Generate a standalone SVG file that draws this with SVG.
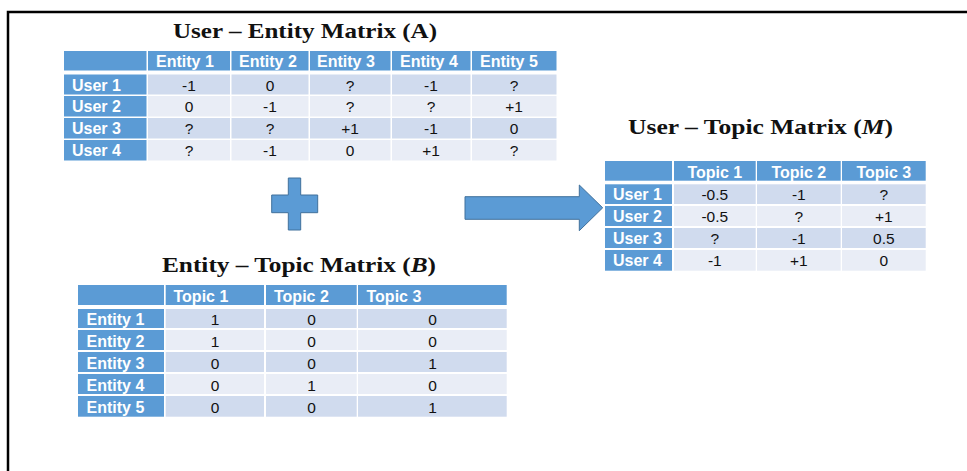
<svg xmlns="http://www.w3.org/2000/svg" width="967" height="471" viewBox="0 0 967 471">
<style>
.hd{fill:#5B9BD5}
.d1{fill:#D0DBEE}
.d2{fill:#E9EDF6}
.ht{font-family:"Liberation Sans",Arial,sans-serif;font-size:16px;font-weight:bold;fill:#fff}
.dt{font-family:"Liberation Sans",Arial,sans-serif;font-size:15.5px;fill:#111;text-anchor:middle}
.ttl{font-family:"Liberation Serif","Times New Roman",serif;font-size:21px;font-weight:bold;fill:#111}
.shape{fill:#5B9BD5;stroke:#41719C;stroke-width:1}
</style>
<rect width="967" height="471" fill="#fff"/>
<path d="M8,471 V12 H967" fill="none" stroke="#000" stroke-width="2.5"/>

<g id="matrixA">
<text class="ttl" x="173" y="38" textLength="264" lengthAdjust="spacingAndGlyphs">User – Entity Matrix (A)</text>
<rect class="hd" x="64" y="51" width="82.5" height="19.5"/>
<rect class="hd" x="148" y="51" width="82" height="19.5"/>
<rect class="hd" x="231.5" y="51" width="77" height="19.5"/>
<rect class="hd" x="310" y="51" width="80.5" height="19.5"/>
<rect class="hd" x="392" y="51" width="78.5" height="19.5"/>
<rect class="hd" x="472" y="51" width="84.5" height="19.5"/>
<text class="ht" x="156" y="67">Entity 1</text>
<text class="ht" x="239" y="67">Entity 2</text>
<text class="ht" x="317" y="67">Entity 3</text>
<text class="ht" x="400" y="67">Entity 4</text>
<text class="ht" x="480" y="67">Entity 5</text>
<rect class="hd" x="64" y="74.5" width="82.5" height="20"/>
<rect class="hd" x="64" y="96" width="82.5" height="20.5"/>
<rect class="hd" x="64" y="118" width="82.5" height="20.5"/>
<rect class="hd" x="64" y="140" width="82.5" height="20.5"/>
<text class="ht" x="72" y="90.5">User 1</text>
<text class="ht" x="72" y="112">User 2</text>
<text class="ht" x="72" y="134">User 3</text>
<text class="ht" x="72" y="156">User 4</text>
<g class="d1"><rect x="148" y="74.5" width="82" height="20"/><rect x="231.5" y="74.5" width="77" height="20"/><rect x="310" y="74.5" width="80.5" height="20"/><rect x="392" y="74.5" width="78.5" height="20"/><rect x="472" y="74.5" width="84.5" height="20"/></g>
<g class="d2"><rect x="148" y="96" width="82" height="20.5"/><rect x="231.5" y="96" width="77" height="20.5"/><rect x="310" y="96" width="80.5" height="20.5"/><rect x="392" y="96" width="78.5" height="20.5"/><rect x="472" y="96" width="84.5" height="20.5"/></g>
<g class="d1"><rect x="148" y="118" width="82" height="20.5"/><rect x="231.5" y="118" width="77" height="20.5"/><rect x="310" y="118" width="80.5" height="20.5"/><rect x="392" y="118" width="78.5" height="20.5"/><rect x="472" y="118" width="84.5" height="20.5"/></g>
<g class="d2"><rect x="148" y="140" width="82" height="20.5"/><rect x="231.5" y="140" width="77" height="20.5"/><rect x="310" y="140" width="80.5" height="20.5"/><rect x="392" y="140" width="78.5" height="20.5"/><rect x="472" y="140" width="84.5" height="20.5"/></g>
<text class="dt" x="189" y="90.5">-1</text><text class="dt" x="270" y="90.5">0</text><text class="dt" x="350" y="90.5">?</text><text class="dt" x="431" y="90.5">-1</text><text class="dt" x="514" y="90.5">?</text>
<text class="dt" x="189" y="112">0</text><text class="dt" x="270" y="112">-1</text><text class="dt" x="350" y="112">?</text><text class="dt" x="431" y="112">?</text><text class="dt" x="514" y="112">+1</text>
<text class="dt" x="189" y="134">?</text><text class="dt" x="270" y="134">?</text><text class="dt" x="350" y="134">+1</text><text class="dt" x="431" y="134">-1</text><text class="dt" x="514" y="134">0</text>
<text class="dt" x="189" y="156">?</text><text class="dt" x="270" y="156">-1</text><text class="dt" x="350" y="156">0</text><text class="dt" x="431" y="156">+1</text><text class="dt" x="514" y="156">?</text>
</g>

<g id="matrixB">
<text class="ttl" x="162" y="272" textLength="274" lengthAdjust="spacingAndGlyphs">Entity – Topic Matrix (<tspan font-style="italic">B</tspan>)</text>
<rect class="hd" x="78" y="285" width="86" height="20"/>
<rect class="hd" x="165.7" y="285" width="98.3" height="20"/>
<rect class="hd" x="266" y="285" width="90.7" height="20"/>
<rect class="hd" x="358" y="285" width="148.7" height="20"/>
<text class="ht" x="173.5" y="301.5">Topic 1</text>
<text class="ht" x="274" y="301.5">Topic 2</text>
<text class="ht" x="366.5" y="301.5">Topic 3</text>
<rect class="hd" x="78" y="309" width="86" height="19"/>
<rect class="hd" x="78" y="330" width="86" height="20"/>
<rect class="hd" x="78" y="352" width="86" height="20"/>
<rect class="hd" x="78" y="374" width="86" height="20"/>
<rect class="hd" x="78" y="396" width="86" height="20.7"/>
<text class="ht" x="86.5" y="325">Entity 1</text>
<text class="ht" x="86.5" y="346.5">Entity 2</text>
<text class="ht" x="86.5" y="368.5">Entity 3</text>
<text class="ht" x="86.5" y="390.5">Entity 4</text>
<text class="ht" x="86.5" y="413">Entity 5</text>
<g class="d1"><rect x="165.7" y="309" width="98.3" height="19"/><rect x="266" y="309" width="90.7" height="19"/><rect x="358" y="309" width="148.7" height="19"/></g>
<g class="d2"><rect x="165.7" y="330" width="98.3" height="20"/><rect x="266" y="330" width="90.7" height="20"/><rect x="358" y="330" width="148.7" height="20"/></g>
<g class="d1"><rect x="165.7" y="352" width="98.3" height="20"/><rect x="266" y="352" width="90.7" height="20"/><rect x="358" y="352" width="148.7" height="20"/></g>
<g class="d2"><rect x="165.7" y="374" width="98.3" height="20"/><rect x="266" y="374" width="90.7" height="20"/><rect x="358" y="374" width="148.7" height="20"/></g>
<g class="d1"><rect x="165.7" y="396" width="98.3" height="20.7"/><rect x="266" y="396" width="90.7" height="20.7"/><rect x="358" y="396" width="148.7" height="20.7"/></g>
<text class="dt" x="215" y="325">1</text><text class="dt" x="311.5" y="325">0</text><text class="dt" x="432.5" y="325">0</text>
<text class="dt" x="215" y="346.5">1</text><text class="dt" x="311.5" y="346.5">0</text><text class="dt" x="432.5" y="346.5">0</text>
<text class="dt" x="215" y="368.5">0</text><text class="dt" x="311.5" y="368.5">0</text><text class="dt" x="432.5" y="368.5">1</text>
<text class="dt" x="215" y="390.5">0</text><text class="dt" x="311.5" y="390.5">1</text><text class="dt" x="432.5" y="390.5">0</text>
<text class="dt" x="215" y="413">0</text><text class="dt" x="311.5" y="413">0</text><text class="dt" x="432.5" y="413">1</text>
</g>

<g id="matrixM">
<text class="ttl" x="628" y="133.5" textLength="265" lengthAdjust="spacingAndGlyphs">User – Topic Matrix (<tspan font-style="italic">M</tspan>)</text>
<rect class="hd" x="605" y="161" width="67" height="19.7"/>
<rect class="hd" x="674" y="161" width="81.7" height="19.7"/>
<rect class="hd" x="757" y="161" width="83.7" height="19.7"/>
<rect class="hd" x="842" y="161" width="83.7" height="19.7"/>
<text class="ht" x="714.8" y="177.5" text-anchor="middle">Topic 1</text>
<text class="ht" x="798.8" y="177.5" text-anchor="middle">Topic 2</text>
<text class="ht" x="883.8" y="177.5" text-anchor="middle">Topic 3</text>
<rect class="hd" x="605" y="184.3" width="67" height="19.7"/>
<rect class="hd" x="605" y="206" width="67" height="20"/>
<rect class="hd" x="605" y="228" width="67" height="20"/>
<rect class="hd" x="605" y="250" width="67" height="20.7"/>
<text class="ht" x="613" y="200">User 1</text>
<text class="ht" x="613" y="222">User 2</text>
<text class="ht" x="613" y="244">User 3</text>
<text class="ht" x="613" y="266">User 4</text>
<g class="d1"><rect x="674" y="184.3" width="81.7" height="19.7"/><rect x="757" y="184.3" width="83.7" height="19.7"/><rect x="842" y="184.3" width="83.7" height="19.7"/></g>
<g class="d2"><rect x="674" y="206" width="81.7" height="20"/><rect x="757" y="206" width="83.7" height="20"/><rect x="842" y="206" width="83.7" height="20"/></g>
<g class="d1"><rect x="674" y="228" width="81.7" height="20"/><rect x="757" y="228" width="83.7" height="20"/><rect x="842" y="228" width="83.7" height="20"/></g>
<g class="d2"><rect x="674" y="250" width="81.7" height="20.7"/><rect x="757" y="250" width="83.7" height="20.7"/><rect x="842" y="250" width="83.7" height="20.7"/></g>
<text class="dt" x="714.8" y="200">-0.5</text><text class="dt" x="798.8" y="200">-1</text><text class="dt" x="883.8" y="200">?</text>
<text class="dt" x="714.8" y="222">-0.5</text><text class="dt" x="798.8" y="222">?</text><text class="dt" x="883.8" y="222">+1</text>
<text class="dt" x="714.8" y="244">?</text><text class="dt" x="798.8" y="244">-1</text><text class="dt" x="883.8" y="244">0.5</text>
<text class="dt" x="714.8" y="266">-1</text><text class="dt" x="798.8" y="266">+1</text><text class="dt" x="883.8" y="266">0</text>
</g>

<g id="connectors">
<polygon id="plus" class="shape" points="288.3,178 300.7,178 300.7,195 317.7,195 317.7,212.7 300.7,212.7 300.7,230 288.3,230 288.3,212.7 271.7,212.7 271.7,195 288.3,195"/>
<polygon id="arrow" class="shape" points="465,196.7 579.3,196.7 579.3,185 602.7,207.8 579.3,230.7 579.3,219.3 465,219.3"/>
</g>
</svg>
